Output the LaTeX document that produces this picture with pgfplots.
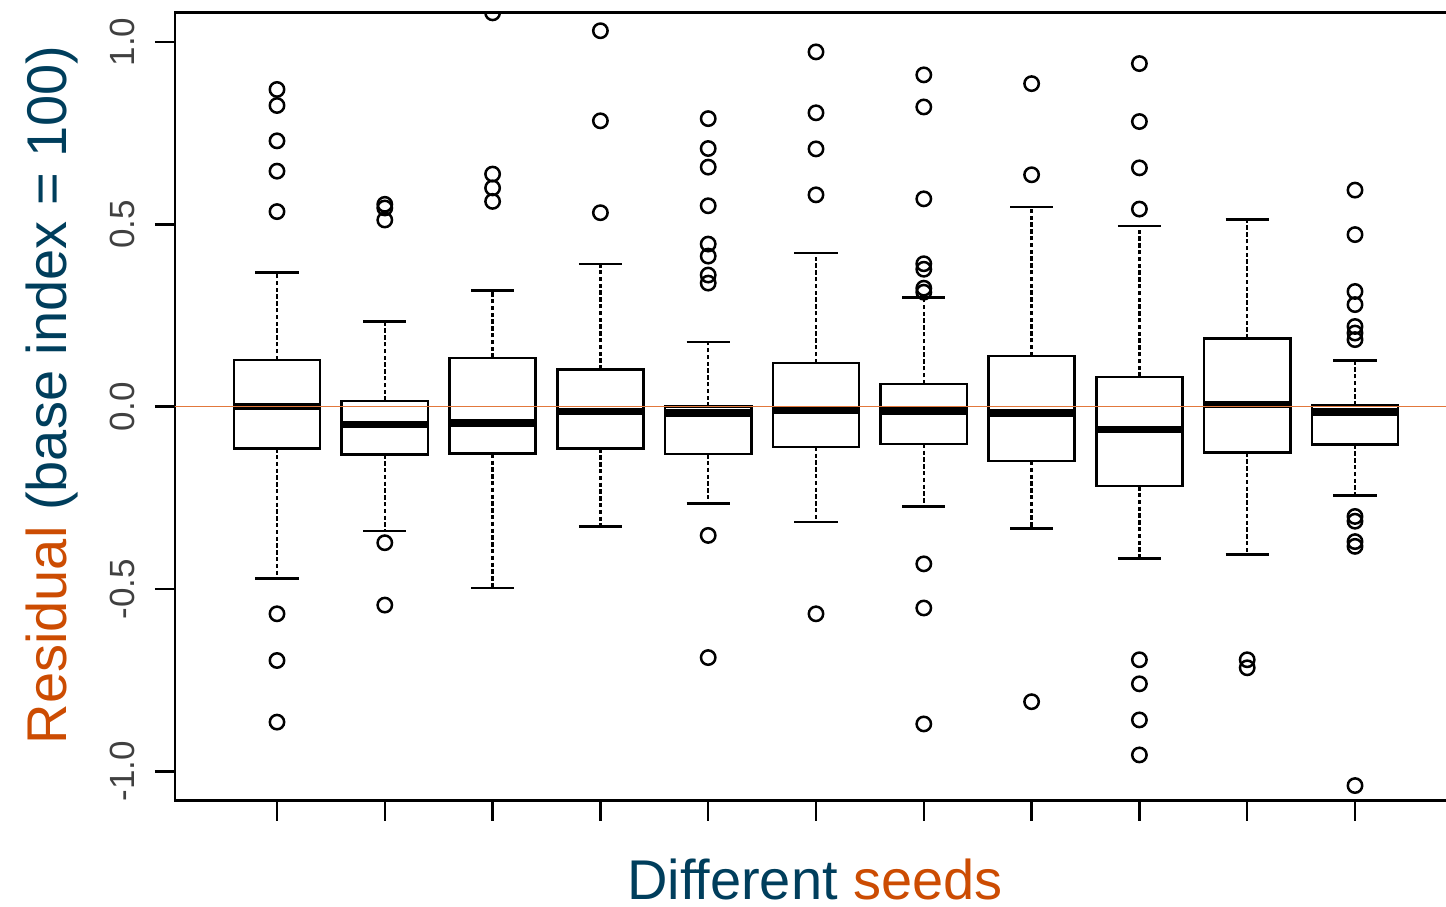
\documentclass[border=0pt]{standalone}
\usepackage{fontspec}
\setmainfont{Liberation Sans}
\usepackage{pgfplots}
\pgfplotsset{compat=1.18}
\usepgfplotslibrary{statistics}
\definecolor{labblue}{RGB}{0,62,92}
\definecolor{laborange}{RGB}{204,76,2}
\definecolor{zeroline}{RGB}{226,120,60}

\pgfplotsset{
  rbox/.style={
    black, line width=1.25pt, solid,
    mark=o, mark size=3.6pt, mark options={solid, line width=1.25pt},
    boxplot/draw direction=y,
    boxplot/box extend=0.8,
    boxplot/whisker extend=0.4,
    boxplot/every median/.style={line width=3.8pt},
    boxplot/draw/lower whisker/.code={%
      \draw[line width=1.15pt, dash pattern=on 2.2pt off 1.2pt]
        (boxplot box cs:\pgfplotsboxplotvalue{lower quartile},0.5)
        -- (boxplot box cs:\pgfplotsboxplotvalue{lower whisker},0.5);
      \draw[line width=1.25pt]
        (boxplot whisker cs:\pgfplotsboxplotvalue{lower whisker},0)
        -- (boxplot whisker cs:\pgfplotsboxplotvalue{lower whisker},1);
    },
    boxplot/draw/upper whisker/.code={%
      \draw[line width=1.15pt, dash pattern=on 2.2pt off 1.2pt]
        (boxplot box cs:\pgfplotsboxplotvalue{upper quartile},0.5)
        -- (boxplot box cs:\pgfplotsboxplotvalue{upper whisker},0.5);
      \draw[line width=1.25pt]
        (boxplot whisker cs:\pgfplotsboxplotvalue{upper whisker},0)
        -- (boxplot whisker cs:\pgfplotsboxplotvalue{upper whisker},1);
    },
  },
}

\begin{document}
\begin{tikzpicture}
\begin{axis}[
  scale only axis,
  width=643.9pt, height=394pt,
  xmin=0.0538, xmax=12.0,
  ymin=-1.0805, ymax=1.0805,
  clip marker paths=true,
  axis line style={line width=1.25pt},
  tick style={line width=1.25pt, black},
  major tick length=10pt,
  tick align=outside,
  xtick pos=left, ytick pos=left,
  xtick={1,2,3,4,5,6,7,8,9,10,11},
  xticklabels={~,~,~,~,~,~,~,~,~,~,~},
  ytick={-1,-0.5,0,0.5,1},
  yticklabels={-1.0,-0.5,0.0,0.5,1.0},
  yticklabel shift=10pt,
  yticklabel style={rotate=90, anchor=south, inner sep=0pt,
    font=\fontsize{17.5}{20}\selectfont, text=black!75},
  xlabel={\textcolor{labblue}{Different} \textcolor{laborange}{seeds}},
  xlabel style={at={(axis description cs:0.497,-0.126)}, anchor=base,
    inner sep=0pt, font=\fontsize{28}{32}\selectfont},
  ylabel={\textcolor{laborange}{Residual} \textcolor{labblue}{(base index = 100)}},
  ylabel style={at={(axis description cs:-0.0839,0.515)}, anchor=base,
    inner sep=0pt, font=\fontsize{28}{32}\selectfont},
]
\addplot[rbox, boxplot prepared={draw position=1, median=0.001,
  upper quartile=0.128, lower quartile=-0.114,
  upper whisker=0.368, lower whisker=-0.471}]
  table[row sep=\\, y index=0] {y\\ 0.870\\ 0.826\\ 0.729\\ 0.646\\ 0.535\\ -0.568\\ -0.696\\ -0.865\\};
\addplot[rbox, boxplot prepared={draw position=2, median=-0.049,
  upper quartile=0.016, lower quartile=-0.131,
  upper whisker=0.233, lower whisker=-0.341}]
  table[row sep=\\, y index=0] {y\\ 0.555\\ 0.545\\ 0.512\\ -0.373\\ -0.544\\};
\addplot[rbox, boxplot prepared={draw position=3, median=-0.044,
  upper quartile=0.134, lower quartile=-0.129,
  upper whisker=0.319, lower whisker=-0.497}]
  table[row sep=\\, y index=0] {y\\ 1.080\\ 0.638\\ 0.600\\ 0.563\\};
\addplot[rbox, boxplot prepared={draw position=4, median=-0.013,
  upper quartile=0.102, lower quartile=-0.115,
  upper whisker=0.391, lower whisker=-0.329}]
  table[row sep=\\, y index=0] {y\\ 1.031\\ 0.784\\ 0.532\\};
\addplot[rbox, boxplot prepared={draw position=5, median=-0.017,
  upper quartile=0.000, lower quartile=-0.130,
  upper whisker=0.178, lower whisker=-0.265}]
  table[row sep=\\, y index=0] {y\\ 0.790\\ 0.708\\ 0.657\\ 0.551\\ 0.446\\ 0.413\\ 0.361\\ 0.339\\ -0.353\\ -0.688\\};
\addplot[rbox, boxplot prepared={draw position=6, median=-0.009,
  upper quartile=0.120, lower quartile=-0.110,
  upper whisker=0.422, lower whisker=-0.316}]
  table[row sep=\\, y index=0] {y\\ 0.973\\ 0.806\\ 0.707\\ 0.581\\ -0.568\\};
\addplot[rbox, boxplot prepared={draw position=7, median=-0.012,
  upper quartile=0.062, lower quartile=-0.102,
  upper whisker=0.299, lower whisker=-0.274}]
  table[row sep=\\, y index=0] {y\\ 0.910\\ 0.822\\ 0.570\\ 0.392\\ 0.377\\ 0.325\\ 0.314\\ -0.431\\ -0.552\\ -0.870\\};
\addplot[rbox, boxplot prepared={draw position=8, median=-0.017,
  upper quartile=0.139, lower quartile=-0.149,
  upper whisker=0.547, lower whisker=-0.334}]
  table[row sep=\\, y index=0] {y\\ 0.886\\ 0.636\\ -0.809\\};
\addplot[rbox, boxplot prepared={draw position=9, median=-0.062,
  upper quartile=0.082, lower quartile=-0.218,
  upper whisker=0.496, lower whisker=-0.416}]
  table[row sep=\\, y index=0] {y\\ 0.941\\ 0.782\\ 0.655\\ 0.542\\ -0.694\\ -0.760\\ -0.859\\ -0.955\\};
\addplot[rbox, boxplot prepared={draw position=10, median=0.006,
  upper quartile=0.187, lower quartile=-0.126,
  upper whisker=0.513, lower whisker=-0.405}]
  table[row sep=\\, y index=0] {y\\ -0.694\\ -0.716\\};
\addplot[rbox, boxplot prepared={draw position=11, median=-0.015,
  upper quartile=0.003, lower quartile=-0.104,
  upper whisker=0.127, lower whisker=-0.243}]
  table[row sep=\\, y index=0] {y\\ 0.594\\ 0.472\\ 0.316\\ 0.280\\ 0.220\\ 0.202\\ 0.184\\ -0.301\\ -0.314\\ -0.370\\ -0.383\\ -1.039\\};
\addplot[draw=zeroline, line width=0.6pt] coordinates {(0,0) (13,0)};
\end{axis}
\pgfresetboundingbox
\path[use as bounding box] (-87.5pt,-52.65pt) rectangle (635.5pt,400.35pt);
\end{tikzpicture}
\end{document}
